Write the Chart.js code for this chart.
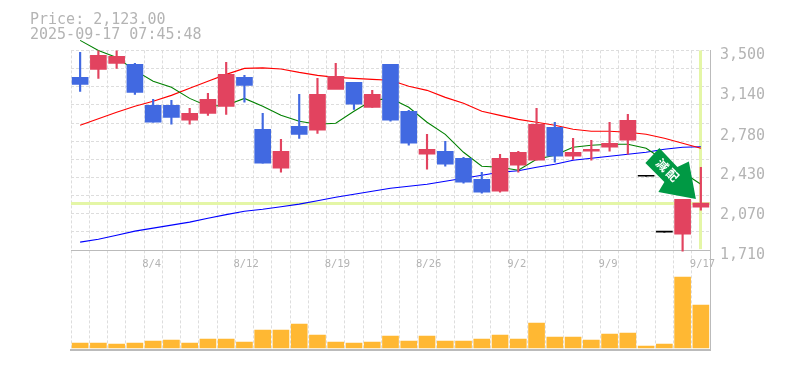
<!doctype html>
<html lang="en">

<head>
    <meta charset="utf-8">
    <title>Price chart</title>
    <script src="https://cdn.jsdelivr.net/npm/chart.js@4"></script>
    <style>
        html, body { margin: 0; padding: 0; background: #fff; }
        canvas { display: block; }
    </style>
</head>

<body>
    <canvas id="myChart" width="785" height="370"></canvas>

    <script>
        const categories = ['7/29', '7/30', '7/31', '8/1', '8/4', '8/5', '8/6', '8/7', '8/8', '8/12', '8/13', '8/14',
            '8/15', '8/18', '8/19', '8/20', '8/21', '8/22', '8/25', '8/26', '8/27', '8/28', '8/29', '9/1', '9/2',
            '9/3', '9/4', '9/5', '9/8', '9/9', '9/10', '9/11', '9/12', '9/16', '9/17'];
        const dateLabels = ['8/4', '8/12', '8/19', '8/26', '9/2', '9/9', '9/17'];
        const priceLabels = [3500, 3140, 2780, 2430, 2070, 1710];
        const priceGrid = [3500, 3337, 3175, 3012, 2849, 2687, 2524, 2361, 2198, 2035, 1873, 1710];
        const lastPrice = 2123;
        const titleLines = ['Price: 2,123.00', '2025-09-17 07:45:48'];
        const arrowText = ['減', '配'];

        const opens = [3258, 3330, 3384, 3375, 3008, 3008, 2874, 2936, 2999, 3258, 2793, 2444, 2820, 2784, 3151, 3214,
            2990, 3375, 2954, 2569, 2596, 2533, 2345, 2238, 2471, 2516, 2811, 2551, 2596, 2632, 2695, 2372, 1871, 1853, 2095];
        const closes = [3196, 3455, 3446, 3124, 2856, 2900, 2936, 3061, 3285, 3187, 2489, 2596, 2748, 3106, 3267, 3017,
            3106, 2874, 2668, 2614, 2480, 2319, 2229, 2533, 2587, 2838, 2551, 2587, 2614, 2668, 2874, 2372, 1871, 2166, 2131];
        const highs = [3482, 3500, 3500, 3384, 3061, 3052, 2981, 3115, 3393, 3276, 2936, 2703, 3106, 3249, 3384, 3214,
            3142, 3375, 2963, 2748, 2686, 2542, 2408, 2569, 2596, 2981, 2856, 2712, 2695, 2856, 2927, 2372, 1871, 2166, 2453];
        const lows = [3133, 3249, 3339, 3106, 2856, 2838, 2838, 2918, 2927, 3035, 2489, 2408, 2712, 2757, 3169, 2972,
            2990, 2865, 2650, 2435, 2462, 2310, 2220, 2229, 2408, 2516, 2498, 2524, 2516, 2596, 2569, 2372, 1871, 1701, 2068];
        const volumes = [50000, 50000, 40000, 50000, 70000, 80000, 50000, 90000, 90000, 60000, 180000, 180000, 240000,
            130000, 60000, 50000, 60000, 120000, 70000, 120000, 70000, 70000, 90000, 130000, 90000, 250000, 110000,
            110000, 80000, 140000, 150000, 20000, 40000, 710000, 430000];
        const maShort = [3590, 3500, 3437, 3321, 3223, 3169, 3070, 2999, 3008, 3070, 2999, 2918, 2865, 2838, 2847, 2954,
            3052, 3070, 2990, 2856, 2748, 2587, 2462, 2453, 2426, 2524, 2560, 2632, 2650, 2659, 2659, 2623, 2516, 2408, 2301];
        const maMiddle = [2829, 2887, 2945, 2999, 3044, 3097, 3160, 3223, 3285, 3339, 3343, 3334, 3303, 3276, 3258, 3249,
            3240, 3232, 3178, 3142, 3079, 3026, 2954, 2918, 2882, 2856, 2829, 2793, 2775, 2775, 2766, 2748, 2712, 2668, 2623];
        const maLong = [1782, 1808, 1844, 1880, 1907, 1934, 1961, 1996, 2028, 2059, 2077, 2099, 2122, 2153, 2184, 2211,
            2238, 2265, 2283, 2301, 2328, 2354, 2381, 2408, 2422, 2453, 2480, 2516, 2533, 2551, 2569, 2587, 2614, 2632, 2636];

        const gridColor = '#dddddd';
        const axisColor = '#bbbbbb';
        const textColor = '#b4b4b4';
        const mono = '"DejaVu Sans Mono", monospace';

        function candleColor(i) {
            if (closes[i] === opens[i]) return '#000000';
            return closes[i] > opens[i] ? '#e2435f' : '#4169e1';
        }
        const candleColors = categories.map(function (c, i) { return candleColor(i); });

        // the yellow guides for the last price and the last day
        const guides = {
            id: 'guides',
            beforeDatasetsDraw: function (chart) {
                const c = chart.ctx;
                const area = chart.chartArea;
                const py = chart.scales.y.getPixelForValue(lastPrice);
                const px = chart.scales.x.getPixelForValue(categories.length - 1);
                const bottom = chart.scales.y.getPixelForValue(priceGrid[priceGrid.length - 1]);
                c.save();
                c.fillStyle = '#e4f6a6';
                c.fillRect(area.left, Math.round(py) - 2, area.right - area.left, 3);
                c.fillRect(Math.round(px) - 2, area.top, 3, bottom - area.top - 1);
                c.restore();
            }
        };

        // green arrow badge, placed from the tip
        const arrow = {
            id: 'arrow',
            afterDatasetsDraw: function (chart) {
                const c = chart.ctx;
                const tx = chart.scales.x.getPixelForValue(categories.length - 1) - 5;
                const ty = chart.scales.y.getPixelForValue(lastPrice) - 5;
                const shape = [[-50.5, -36], [-36.5, -51], [-18.5, -32], [-7, -37.5], [0, 0], [-37.5, -7], [-31.5, -17]];
                c.save();
                c.fillStyle = '#009944';
                c.beginPath();
                shape.forEach(function (p, i) {
                    if (i === 0) c.moveTo(tx + p[0], ty + p[1]);
                    else c.lineTo(tx + p[0], ty + p[1]);
                });
                c.closePath();
                c.fill();
                c.fillStyle = '#ffffff';
                c.font = 'bold 12px "Noto Sans CJK JP"';
                c.textAlign = 'center';
                c.textBaseline = 'middle';
                arrowText.forEach(function (t, i) {
                    c.save();
                    c.translate(tx - 33.5 + i * 10.3, ty - 34 + i * 10);
                    c.rotate(Math.PI / 4);
                    c.fillText(t, 0, 0);
                    c.restore();
                });
                c.restore();
            }
        };

        function lineSet(values, color) {
            return {
                type: 'line', data: values, borderColor: color, borderWidth: 1.1, pointRadius: 0, tension: 0,
                yAxisID: 'y', order: 3, clip: false
            };
        }

        const chart = new Chart(document.getElementById('myChart').getContext('2d'), {
            data: {
                labels: categories,
                datasets: [
                    {
                        type: 'bar', data: lows.map(function (l, i) { return [l, highs[i]]; }),
                        backgroundColor: candleColors, barThickness: 1.5, grouped: false, yAxisID: 'y', order: 2
                    },
                    {
                        type: 'bar', data: opens.map(function (o, i) { return [o, closes[i]]; }),
                        backgroundColor: candleColors, barThickness: 16, grouped: false, minBarLength: 1,
                        yAxisID: 'y', order: 1
                    },
                    {
                        type: 'bar', data: volumes, backgroundColor: '#ffb833', barThickness: 16, grouped: false,
                        yAxisID: 'yVol', order: 4
                    },
                    lineSet(maShort, '#008000'),
                    lineSet(maMiddle, '#ff0000'),
                    lineSet(maLong, '#0000ff')
                ]
            },
            plugins: [guides, arrow],
            options: {
                responsive: false,
                animation: false,
                layout: { padding: { left: 30, top: 13, right: 0, bottom: 20 } },
                plugins: {
                    legend: { display: false },
                    tooltip: { enabled: false },
                    title: {
                        display: true, text: titleLines, align: 'start', color: textColor,
                        font: { family: mono, size: 15, weight: 'normal', lineHeight: 0.98 },
                        padding: { top: 0, bottom: 8 }
                    }
                },
                scales: {
                    x: {
                        axis: 'x', type: 'category', offset: true, position: { y: 1710 },
                        grid: { color: gridColor, offset: true, drawTicks: false },
                        border: { color: axisColor, dash: [3, 2] },
                        ticks: {
                            autoSkip: false, maxRotation: 0, minRotation: 0, align: 'start', labelOffset: -11, padding: 8,
                            color: textColor, font: { family: mono, size: 10.5 },
                            callback: function (v) {
                                const label = this.getLabelForValue(v);
                                return dateLabels.indexOf(label) >= 0 ? label : '';
                            }
                        }
                    },
                    xBase: {
                        axis: 'x', type: 'category', position: 'bottom', offset: true,
                        grid: { display: false }, ticks: { display: false },
                        border: { color: axisColor, width: 2 },
                        afterFit: function (s) { s.height = 0; }
                    },
                    y: {
                        position: 'left', min: 815, max: 3500,
                        afterBuildTicks: function (s) { s.ticks = priceGrid.map(function (v) { return { value: v }; }); },
                        grid: { color: gridColor, drawTicks: false },
                        border: { display: false, dash: [3, 2] },
                        ticks: { display: false },
                        afterFit: function (s) { s.width = 41; }
                    },
                    yPrice: {
                        position: 'right', min: 815, max: 3500,
                        afterBuildTicks: function (s) { s.ticks = priceLabels.map(function (v) { return { value: v }; }); },
                        grid: { display: false, drawTicks: false },
                        border: { color: axisColor },
                        ticks: {
                            padding: 10, labelOffset: 5, color: textColor, font: { family: mono, size: 15 },
                            callback: function (v) { return v.toLocaleString('en-US'); }
                        },
                        afterFit: function (s) { s.width = 75; }
                    },
                    yVol: { display: false, min: -20000, max: 2980000 }
                }
            }
        });
    </script>
</body>

</html>
